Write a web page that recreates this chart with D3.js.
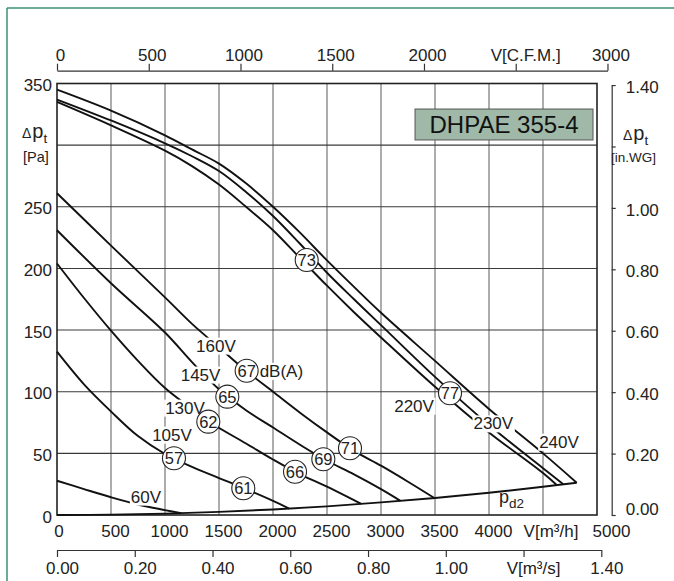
<!DOCTYPE html>
<html><head><meta charset="utf-8">
<script src="https://cdn.jsdelivr.net/npm/d3@7"></script>
<style>
body{margin:0;background:#fff;}
svg{display:block;font-family:"Liberation Sans",Arial,Helvetica,sans-serif;}
</style></head><body>
<svg id="c" width="674" height="581"></svg>
<script>
// ---------- data ----------
const flowTicks = [0,500,1000,1500,2000,2500,3000,3500,4000,4500,5000];      // m3/h
const pressureTicks = [0,50,100,150,200,250,300,350];                      // Pa
const cfmTicks = [0,500,1000,1500,2000,2500,3000];                         // CFM
const m3sTicks = [0,0.2,0.4,0.6,0.8,1.0,1.2,1.4];                           // m3/s
const inwgTicks = [0,0.2,0.4,0.6,0.8,1.0,1.2,1.4];                          // in.WG

const q240 = [0,500,1000,1250,1500,1750,2000,2250,2500,2750,3000,3500,4000,4500,4812];
const p240 = [345,328,308,296.5,285,269,250,229,206.5,185,164,125,86,50,26.2];
const q230 = [0,500,1000,1250,1500,1750,2000,2250,2500,2750,3000,3500,4000,4500,4688];
const p230 = [337,320,301.5,291,279,262,242.5,220,196.5,175,154,112,73,38,25];
const q220 = [0,500,1000,1250,1500,1750,2000,2250,2500,2750,3000,3500,4000,4500,4627];
const p220 = [335,316,295.5,283,268,250,231,208.5,186,164.5,144,104,67,34,24.3];
const q160 = [0,500,1000,1250,1500,1750,2000,2250,2500,2750,3000,3250,3494];
const p160 = [261,218.5,176.5,155,136,117,100,83,67,52,40,27,13.8];
const q145 = [0,500,1000,1250,1500,1750,2000,2250,2500,2750,3000,3180];
const p145 = [231,188,148,124,102,85,71,57,44,33,21,11.5];
const q130 = [0,250,500,750,1000,1250,1400,1750,2000,2250,2500,2750,2818];
const p130 = [204,176,149.5,125,103,86,76,58,45,33,23,12,9];
const q105 = [0,250,500,750,1000,1250,1500,1750,2000,2150];
const p105 = [132.5,106,84,64,49.5,39,30,21,11.5,5.2];
const q60 = [0,250,500,750,1000,1150];
const p60 = [27.8,21,14.4,8.5,4,1.5];
const qPd2 = [0,500,1000,1500,2000,2500,3000,3500,4000,4500,4812];
const pPd2 = [0,0.3,1.1,2.5,4.5,7,10.2,13.8,18,22.9,26.2];

const curveNames = ["240V","230V","220V","160V","145V","130V","105V","60V","pd2"];
const curveQ = [q240,q230,q220,q160,q145,q130,q105,q60,qPd2];
const curveP = [p240,p230,p220,p160,p145,p130,p105,p60,pPd2];

// voltage labels (data coordinates: m3/h, Pa)
const voltLabels = ["160V","145V","130V","105V","60V","220V","230V","240V"];
const voltQ = [1472,1329,1185,1065,824,3306,4040,4648];
const voltP = [137.5,114,87.2,65.3,15,88.7,74.4,59.5];
// noise-level circles dB(A)
const dbValues = [73,77,67,65,62,57,61,66,69,71];
const dbQ = [2312,3639,1756,1577,1401,1083,1725,2204,2466,2713];
const dbP = [206.8,98.7,117,96,75.7,46,21.7,35.1,45.2,54.1];

const title = "DHPAE 355-4";

// ---------- scales ----------
const svg = d3.select("#c");
const x = d3.scaleLinear().domain([0,5000]).range([57,597]);
const y = d3.scaleLinear().domain([0,350]).range([515,83.5]);
const xc = d3.scaleLinear().domain([0,3000]).range([x(0), x(3000*1.699)]);
const xs = d3.scaleLinear().domain([0,1.4]).range([x(0), x(1.4*3600)]);
const yw = d3.scaleLinear().domain([0,1.4]).range([y(0), y(1.4*249.09)]);

// outer frame
svg.append("line").attr("x1",7).attr("x2",674).attr("y1",8).attr("y2",8).attr("stroke","#3a9272").attr("stroke-width",1.5);
svg.append("line").attr("x1",7).attr("x2",7).attr("y1",8).attr("y2",581).attr("stroke","#3a9272").attr("stroke-width",1.5);

// grid
const grid = svg.append("g");
grid.selectAll("line.v").data(flowTicks.slice(1,-1)).join("line")
  .attr("x1",d=>x(d)).attr("x2",d=>x(d)).attr("y1",y(350)).attr("y2",y(0))
  .attr("stroke","#6a6a6a").attr("stroke-width",1.1);
grid.selectAll("line.h").data(pressureTicks.slice(1,-1)).join("line")
  .attr("x1",x(0)).attr("x2",x(5000)).attr("y1",d=>y(d)).attr("y2",d=>y(d))
  .attr("stroke","#3a3a3a").attr("stroke-width",1.1);
svg.append("rect").attr("x",x(0)).attr("y",y(350)).attr("width",x(5000)-x(0)).attr("height",y(0)-y(350))
  .attr("fill","none").attr("stroke","#222").attr("stroke-width",1.6);

// title box
const tb = svg.append("g");
tb.append("rect").attr("x",x(3315)).attr("y",y(329.3)).attr("width",x(4963)-x(3315)).attr("height",y(304.2)-y(329.3))
  .attr("fill","#9fb8a7").attr("stroke","#555").attr("stroke-width",1);
tb.append("text").attr("x",(x(3315)+x(4963))/2).attr("y",(y(329.3)+y(304.2))/2).attr("dy","0.36em")
  .attr("text-anchor","middle").attr("font-size",24).attr("fill","#111").text(title);

// curves
const line = d3.line().x(d=>x(d[0])).y(d=>y(d[1])).curve(d3.curveCatmullRom.alpha(0.5));
svg.append("g").selectAll("path").data(curveNames.map((n,i)=>curveQ[i].map((q,j)=>[q,curveP[i][j]]))).join("path")
  .attr("d",line).attr("fill","none").attr("stroke","#111").attr("stroke-width",1.9).attr("stroke-linejoin","round");

// axes
function styleAxis(g){
  g.attr("font-family",null).attr("font-size",null);
  g.selectAll("text").attr("fill","#222").style("font-size","17px");
  g.selectAll("line,path").attr("stroke","#333").attr("stroke-width",1.2);
}
const fmt2 = d3.format(".2f");
const fmtInt = d3.format("d");
// left Pa
const gl = svg.append("g").attr("transform",`translate(${x(0)},0)`)
  .call(d3.axisLeft(y).tickValues(pressureTicks.filter(v=>v!==300)).tickSize(0).tickPadding(5).tickFormat(fmtInt));
gl.select(".domain").remove(); styleAxis(gl);
gl.selectAll("text").attr("dy","0.42em");
// bottom m3/h
const gb = svg.append("g").attr("transform",`translate(0,${y(0)})`)
  .call(d3.axisBottom(x).tickValues(flowTicks.filter(v=>v!==4500)).tickSize(0).tickFormat(fmtInt));
gb.select(".domain").remove(); styleAxis(gb);
gb.selectAll("text").attr("y",16).attr("dy","0.36em").attr("dx",d=>d===0?1.5:(d===5000?14:4));
svg.append("text").attr("x",x(4500)+8).attr("y",y(0)+16).attr("dy","0.36em").attr("text-anchor","middle")
  .attr("font-size",17).attr("fill","#222").text("V[m³/h]");
// top CFM
const gt = svg.append("g").attr("transform","translate(0,70.7)")
  .call(d3.axisTop(xc).tickValues(cfmTicks).tickSize(7).tickSizeOuter(0).tickFormat(d=>d===2500?"":fmtInt(d)));
styleAxis(gt);
gt.selectAll("text").attr("y",-15.5).attr("dy","0.36em").attr("dx",3);
svg.append("text").attr("x",xc(2500)+10).attr("y",70.7-15.5).attr("dy","0.36em").attr("text-anchor","middle")
  .attr("font-size",17).attr("fill","#222").text("V[C.F.M.]");
// bottom m3/s
const gs = svg.append("g").attr("transform","translate(0,550)")
  .call(d3.axisBottom(xs).tickValues(m3sTicks).tickSize(7).tickSizeOuter(0).tickFormat(d=>Math.abs(d-1.2)<1e-9?"":fmt2(d)));
styleAxis(gs);
gs.selectAll("text").attr("y",18).attr("dy","0.36em").attr("dx",5);
svg.append("text").attr("x",xs(1.2)+10).attr("y",550+18).attr("dy","0.36em").attr("text-anchor","middle")
  .attr("font-size",17).attr("fill","#222").text("V[m³/s]");
// right in.WG
const gr = svg.append("g").attr("transform","translate(611.7,0)")
  .call(d3.axisRight(yw).tickValues(inwgTicks).tickSize(4).tickSizeOuter(0).tickPadding(10)
  .tickFormat(d=>Math.abs(d-1.2)<1e-9?"":fmt2(d)));
styleAxis(gr);
gr.selectAll("text").attr("dy",d=>d===0?"-0.05em":"0.42em");

// axis titles Δp_t
function dpLabel(xp, yp){
  const t = svg.append("text").attr("x",xp).attr("y",yp).attr("fill","#222");
  t.append("tspan").attr("font-size",14).text("Δ");
  t.append("tspan").attr("font-size",20).attr("dx",1).text("p");
  t.append("tspan").attr("font-size",13.5).attr("dy",5).text("t");
}
dpLabel(22,138);
svg.append("text").attr("x",23).attr("y",162).attr("font-size",14.5).attr("fill","#222").text("[Pa]");
dpLabel(623,140);
svg.append("text").attr("x",611).attr("y",162).attr("font-size",13.5).attr("fill","#222").text("[in.WG]");

// p_d2 label
const pd = svg.append("text").attr("x",x(4093)).attr("y",y(9.7)).attr("fill","#222");
pd.append("tspan").attr("font-size",18).text("p");
pd.append("tspan").attr("font-size",13.5).attr("dy",5).text("d2");

// voltage labels with white background
voltLabels.forEach((t,i)=>{
  const g = svg.append("g");
  const tx = g.append("text").attr("x",x(voltQ[i])).attr("y",y(voltP[i])).attr("dy","0.36em")
    .attr("text-anchor","middle").attr("font-size",17).attr("fill","#222").text(t);
  const b = tx.node().getBBox();
  g.insert("rect","text").attr("x",b.x-1).attr("y",b.y+1).attr("width",b.width+2).attr("height",b.height-2).attr("fill","#fff");
});
// dB(A) unit label
{
  const g = svg.append("g");
  const tx = g.append("text").attr("x",x(dbQ[2])+13).attr("y",y(dbP[2])).attr("dy","0.36em")
    .attr("font-size",17).attr("fill","#222").text("dB(A)");
  const b = tx.node().getBBox();
  g.insert("rect","text").attr("x",b.x).attr("y",b.y+1).attr("width",b.width+1).attr("height",b.height-2).attr("fill","#fff");
}
// circles
const cg = svg.append("g").selectAll("g").data(dbValues).join("g")
  .attr("transform",(d,i)=>`translate(${x(dbQ[i])},${y(dbP[i])})`);
cg.append("circle").attr("r",11.5).attr("fill","#fff").attr("stroke","#222").attr("stroke-width",1.1);
cg.append("text").attr("text-anchor","middle").attr("dy","0.36em").attr("font-size",16.5).attr("fill","#222").text(d=>d);
</script>
</body></html>
